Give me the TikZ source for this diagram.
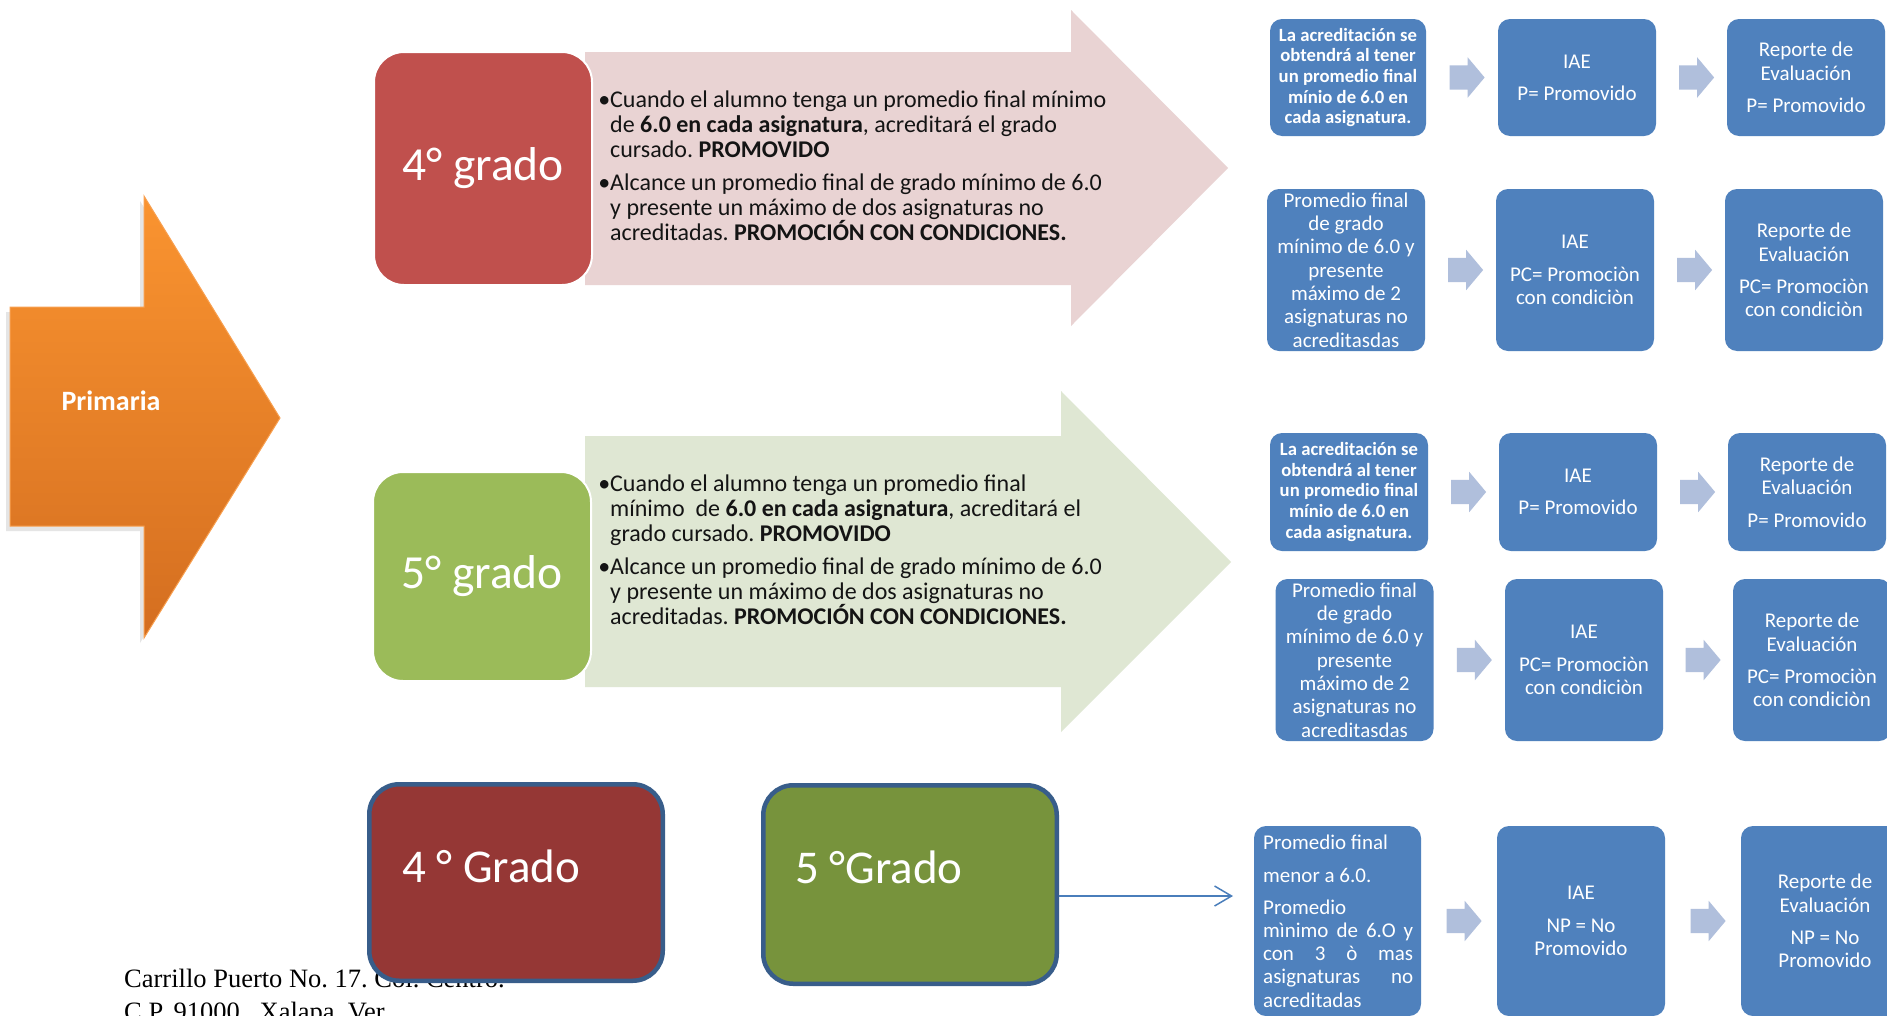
\documentclass[tikz,border=0pt]{standalone}
\usepackage{fontspec}
\setmainfont{Carlito}
\newfontfamily\timesfont{Liberation Serif}
\usetikzlibrary{shapes.arrows,arrows.meta}
\frenchspacing

\definecolor{bluebox}{RGB}{79,129,189}
\definecolor{arrowlt}{RGB}{176,191,220}
\definecolor{pinkarrow}{RGB}{233,211,211}
\definecolor{greenarrow}{RGB}{223,231,211}
\definecolor{redbox}{RGB}{192,80,77}
\definecolor{greenbox}{RGB}{155,187,89}
\definecolor{darkredbox}{RGB}{149,55,53}
\definecolor{olivebox}{RGB}{119,147,60}
\definecolor{outlineblue}{RGB}{56,93,138}
\definecolor{connblue}{RGB}{74,126,187}
\definecolor{orangetop}{RGB}{250,148,48}
\definecolor{orangebot}{RGB}{212,110,32}
\definecolor{orangeedge}{RGB}{248,160,80}
\definecolor{textdark}{RGB}{20,20,20}

\begin{document}
\begin{tikzpicture}[x=1pt,y=-1pt,
  bbox/.style={rectangle, rounded corners=12pt, fill=bluebox, text=white, align=center,
    inner sep=0pt, font=\fontsize{21}{23.3}\selectfont},
  bboxbold/.style={bbox, font=\bfseries\fontsize{18.7}{20.7}\selectfont},
  sarrow/.style={single arrow, fill=arrowlt, draw=none, minimum height=35pt,
    text height=24pt, text depth=0pt, text width=0pt,
    single arrow head extend=8pt, single arrow tip angle=100, inner sep=0pt},
  ptxt/.style={anchor=base west, inner sep=0pt, text=textdark, font=\fontsize{24}{25.3}\selectfont},
  ltxt/.style={anchor=base west, inner sep=0pt, text=white, font=\fontsize{21}{23.3}\selectfont},
  gradebox/.style={rectangle, rounded corners=30pt, draw=white, line width=2pt, text=white,
    font=\fontsize{47.5}{50}\selectfont, inner sep=0pt},
  bottombox/.style={rectangle, rounded corners=30pt, draw=outlineblue, line width=4.5pt, inner sep=0pt},
  bigtxt/.style={anchor=base west, inner sep=0pt, text=white, font=\fontsize{47}{50}\selectfont},
  addr/.style={anchor=base west, inner sep=0pt, text=black, font=\timesfont\fontsize{26.5}{30}\selectfont},
  conn/.style={draw=connblue, line width=1.5pt, -{Straight Barb[length=17pt,width=20pt]}}
]
\useasboundingbox (0,0) rectangle (1887,1015);
\clip (0,0) rectangle (1887,1015);
\fill[white] (0,0) rectangle (1887,1015);

% footer address (partly hidden by the box)
\node[addr] (addr1) at (124,987) {Carrillo Puerto No. 17. Col. Centro.};
\node[addr] (addr2) at (124,1020) {C.P. 91000.\ \ Xalapa, Ver.};

% Primaria arrow with soft shadow
\fill[black!10] (6,312) -- (140,312) -- (140,201) -- (276,423) -- (140,643) -- (140,531) -- (6,531) -- cycle;
\path[top color=orangetop, bottom color=orangebot, draw=orangeedge, line width=1pt]
  (10,307) -- (144,307) -- (144,196) -- (280,418) -- (144,638) -- (144,526) -- (10,526) -- cycle;
\node[text=white, font=\bfseries\fontsize{28}{30}\selectfont, inner sep=0pt] (prim) at (111,401) {Primaria};

% big arrows
\fill[pinkarrow] (585,52) -- (1071,52) -- (1071,10) -- (1228,168) -- (1071,326) -- (1071,285) -- (585,285) -- cycle;
\fill[greenarrow] (585,436) -- (1061,436) -- (1061,391) -- (1231,562) -- (1061,732) -- (1061,687) -- (585,687) -- cycle;

% grade boxes
\node[gradebox, fill=redbox, minimum width=218pt, minimum height=233pt] (g4) at (483,168.5) {4° grado};
\node[gradebox, fill=greenbox, minimum width=218pt, minimum height=209pt] (g5) at (482,576.5) {5° grado};

% text in pink arrow
\node[ptxt] (p1) at (610,107) {\llap{\textbullet}Cuando el alumno tenga un promedio final mínimo};
\node[ptxt] (p2) at (610,132) {de \textbf{6.0 en cada asignatura}, acreditará el grado};
\node[ptxt] (p3) at (610,157) {cursado. \textbf{PROMOVIDO}};
\node[ptxt] (p4) at (610,190) {\llap{\textbullet}Alcance un promedio final de grado mínimo de 6.0};
\node[ptxt] (p5) at (610,215) {y presente un máximo de dos asignaturas no};
\node[ptxt] (p6) at (610,240) {acreditadas. \textbf{PROMOCIÓN CON CONDICIONES.}};

% text in green arrow
\node[ptxt] (q1) at (610,491) {\llap{\textbullet}Cuando el alumno tenga un promedio final};
\node[ptxt] (q2) at (610,516) {mínimo\ \ de \textbf{6.0 en cada asignatura}, acreditará el};
\node[ptxt] (q3) at (610,541) {grado cursado. \textbf{PROMOVIDO}};
\node[ptxt] (q4) at (610,574) {\llap{\textbullet}Alcance un promedio final de grado mínimo de 6.0};
\node[ptxt] (q5) at (610,599) {y presente un máximo de dos asignaturas no};
\node[ptxt] (q6) at (610,624) {acreditadas. \textbf{PROMOCIÓN CON CONDICIONES.}};

% row 1
\node[bboxbold, minimum width=156pt, minimum height=117pt] (r1a) at (1348,77.5)
  {La acreditación se\\obtendrá al tener\\un promedio final\\mínio de 6.0 en\\cada asignatura.};
\node[bbox, minimum width=158pt, minimum height=117pt] (r1b) at (1577,77.5) {IAE\\[9pt]P= Promovido};
\node[bbox, minimum width=158pt, minimum height=117pt] (r1c) at (1806,77.5) {Reporte de\\Evaluación\\[9pt]P= Promovido};
\path (r1a.east) -- (r1b.west) node[sarrow, midway] (a11) {};
\path (r1b.east) -- (r1c.west) node[sarrow, midway] (a12) {};

% row 2
\node[bbox, minimum width=158pt, minimum height=162pt] (r2a) at (1346,270)
  {Promedio final\\de grado\\mínimo de 6.0 y\\presente\\máximo de 2\\asignaturas no\\acreditasdas};
\node[bbox, minimum width=158pt, minimum height=162pt] (r2b) at (1575,270) {IAE\\[9pt]PC= Promociòn\\con condiciòn};
\node[bbox, minimum width=158pt, minimum height=162pt] (r2c) at (1804,270) {Reporte de\\Evaluación\\[9pt]PC= Promociòn\\con condiciòn};
\path (r2a.east) -- (r2b.west) node[sarrow, midway] (a21) {};
\path (r2b.east) -- (r2c.west) node[sarrow, midway] (a22) {};

% row 3
\node[bboxbold, minimum width=158pt, minimum height=118pt] (r3a) at (1349,492)
  {La acreditación se\\obtendrá al tener\\un promedio final\\mínio de 6.0 en\\cada asignatura.};
\node[bbox, minimum width=158pt, minimum height=118pt] (r3b) at (1578,492) {IAE\\[9pt]P= Promovido};
\node[bbox, minimum width=158pt, minimum height=118pt] (r3c) at (1807,492) {Reporte de\\Evaluación\\[9pt]P= Promovido};
\path (r3a.east) -- (r3b.west) node[sarrow, midway] (a31) {};
\path (r3b.east) -- (r3c.west) node[sarrow, midway] (a32) {};

% row 4
\node[bbox, minimum width=158pt, minimum height=162pt] (r4a) at (1354.5,660)
  {Promedio final\\de grado\\mínimo de 6.0 y\\presente\\máximo de 2\\asignaturas no\\acreditasdas};
\node[bbox, minimum width=158pt, minimum height=162pt] (r4b) at (1584,660) {IAE\\[9pt]PC= Promociòn\\con condiciòn};
\node[bbox, minimum width=158pt, minimum height=162pt] (r4c) at (1812,660) {Reporte de\\Evaluación\\[9pt]PC= Promociòn\\con condiciòn};
\path (r4a.east) -- (r4b.west) node[sarrow, midway] (a41) {};
\path (r4b.east) -- (r4c.west) node[sarrow, midway] (a42) {};

% row 5
\node[bbox, minimum width=167pt, minimum height=190pt] (r5a) at (1337.5,921) {};
\node[ltxt] (t51) at (1263,849) {Promedio final};
\node[ltxt] (t52) at (1263,882) {menor a 6.0.};
\node[ltxt] (t53) at (1263,914) {Promedio};
\node[ltxt] (t54) at (1263,937) {\makebox[150pt][s]{mìnimo de 6.O y}};
\node[ltxt] (t55) at (1263,960) {\makebox[150pt][s]{con 3 ò mas}};
\node[ltxt] (t56) at (1263,983) {\makebox[150pt][s]{asignaturas no}};
\node[ltxt] (t57) at (1263,1007) {acreditadas};
\node[bbox, minimum width=168pt, minimum height=190pt] (r5b) at (1581,921) {IAE\\[9pt]NP = No\\Promovido};
\node[bbox, minimum width=168pt, minimum height=190pt] (r5c) at (1825,921) {Reporte de\\Evaluación\\[9pt]NP = No\\Promovido};
\path (r5a.east) -- (r5b.west) node[sarrow, midway] (a51) {};
\path (r5b.east) -- (r5c.west) node[sarrow, midway] (a52) {};

% bottom grade boxes
\node[bottombox, fill=darkredbox, minimum width=293.5pt, minimum height=196.5pt] (b4) at (516,882.5) {};
\node[bigtxt] (b4t) at (402,882) {4 ° Grado};
\node[bottombox, fill=olivebox, minimum width=293.5pt, minimum height=198.5pt] (b5) at (910,884.5) {};
\node[bigtxt] (b5t) at (795,883) {5 °Grado};

% connector
\coordinate (cend) at (1233,896);
\draw[conn] ([yshift=-11.5pt]b5.east) -- (cend);
\end{tikzpicture}
\end{document}
